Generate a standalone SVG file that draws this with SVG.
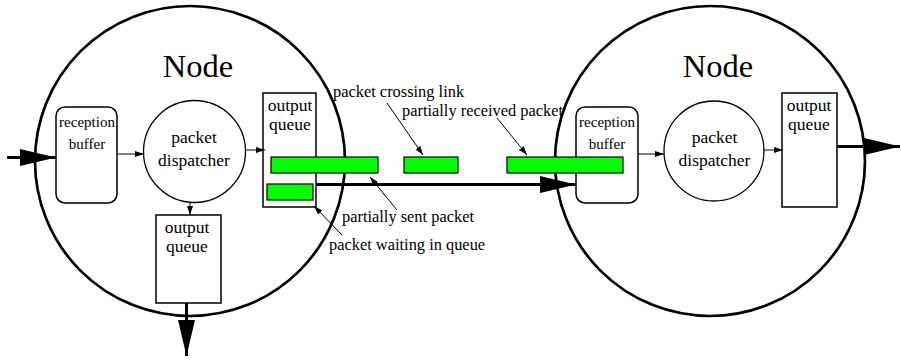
<svg xmlns="http://www.w3.org/2000/svg" width="901" height="363" viewBox="0 0 901 363">
<defs>
<style>
.big{fill:none;stroke:#000;stroke-width:2.7}
.box{fill:#fff;stroke:#000;stroke-width:1.5}
.disp{fill:#fff;stroke:#000;stroke-width:1.3}
.pkt{fill:#00ff00;stroke:#000;stroke-width:1.2}
.thin{fill:none;stroke:#000;stroke-width:1}
.thick{fill:none;stroke:#000;stroke-width:3}
text{fill:#000}
.title{font-size:32.5px;text-anchor:middle}
.rb{font-size:15px;text-anchor:middle}
.lbl{font-size:17.5px;text-anchor:middle}
.note{font-size:16.4px}
</style>
<marker id="bigArrow" viewBox="0 0 36 17" refX="36" refY="8.5" markerWidth="36" markerHeight="17" markerUnits="userSpaceOnUse" orient="auto">
<path d="M0,0 L36,8.5 L0,17 Z" fill="#000"/>
</marker>
<marker id="smallArrow" viewBox="0 0 9 6" refX="9" refY="3" markerWidth="9" markerHeight="6" markerUnits="userSpaceOnUse" orient="auto">
<path d="M0,0 L9,3 L0,6 Z" fill="#000"/>
</marker>
</defs>
<rect width="901" height="363" fill="#fff"/>
<g font-family="'Liberation Serif', 'DejaVu Serif', 'Times New Roman', serif">

<g id="node-left">
<circle class="big" cx="190" cy="161" r="155"/>
<text class="title" x="198" y="77">Node</text>
</g>
<g id="node-right">
<circle class="big" cx="710" cy="161" r="155"/>
<text class="title" x="718" y="77">Node</text>
</g>

<g id="left-reception-buffer">
<rect class="box" x="56" y="107" width="61" height="96" rx="9"/>
<text class="rb" x="87" y="127">reception</text>
<text class="rb" x="87" y="149">buffer</text>
</g>
<g id="left-dispatcher">
<circle class="disp" cx="194.5" cy="151.5" r="51"/>
<text class="lbl" x="194" y="143">packet</text>
<text class="lbl" x="194" y="166">dispatcher</text>
</g>
<g id="left-output-queue-right">
<rect class="box" x="263" y="93" width="53" height="114"/>
<text class="lbl" x="290" y="111">output</text>
<text class="lbl" x="290" y="130">queue</text>
</g>
<g id="left-output-queue-bottom">
<rect class="box" x="156" y="215" width="65" height="88"/>
<text class="lbl" x="187" y="233">output</text>
<text class="lbl" x="187" y="252">queue</text>
</g>

<g id="right-reception-buffer">
<rect class="box" x="576" y="107" width="62" height="96" rx="9"/>
<text class="rb" x="607" y="127">reception</text>
<text class="rb" x="607" y="149">buffer</text>
</g>
<g id="right-dispatcher">
<circle class="disp" cx="714" cy="151" r="50"/>
<text class="lbl" x="714.5" y="143">packet</text>
<text class="lbl" x="714.5" y="166">dispatcher</text>
</g>
<g id="right-output-queue">
<rect class="box" x="782" y="93" width="55" height="114"/>
<text class="lbl" x="809" y="111">output</text>
<text class="lbl" x="809" y="130">queue</text>
</g>

<g id="connectors">
<line class="thick" x1="7" y1="157.5" x2="56" y2="157.5" marker-end="url(#bigArrow)"/>
<line class="thin" x1="117" y1="154" x2="144" y2="154" marker-end="url(#smallArrow)"/>
<line class="thin" x1="245.5" y1="150" x2="265" y2="150" marker-end="url(#smallArrow)"/>
<line class="thin" x1="190" y1="203" x2="190" y2="215" marker-end="url(#smallArrow)"/>
<line class="thick" x1="186.5" y1="303" x2="186.5" y2="356" marker-end="url(#bigArrow)"/>
<line class="thick" x1="316" y1="184.5" x2="576" y2="184.5" marker-end="url(#bigArrow)"/>
<line class="thin" x1="638" y1="154" x2="664" y2="154" marker-end="url(#smallArrow)"/>
<line class="thin" x1="764" y1="150" x2="783" y2="150" marker-end="url(#smallArrow)"/>
<line class="thick" x1="837" y1="146.5" x2="900" y2="146.5" marker-end="url(#bigArrow)"/>
</g>

<g id="packets">
<rect class="pkt" x="271" y="157" width="107" height="16"/>
<rect class="pkt" x="267" y="184" width="46" height="16"/>
<rect class="pkt" x="404" y="157" width="54" height="16"/>
<rect class="pkt" x="507" y="157" width="116" height="16"/>
</g>

<g id="annotations">
<text class="note" x="333" y="97">packet crossing link</text>
<text class="note" x="402" y="116">partially received packet</text>
<text class="note" x="342" y="222">partially sent packet</text>
<text class="note" x="329" y="250">packet waiting in queue</text>
<line class="thin" x1="387" y1="103" x2="423" y2="155" marker-end="url(#smallArrow)"/>
<line class="thin" x1="497" y1="118" x2="527" y2="155" marker-end="url(#smallArrow)"/>
<line class="thin" x1="397" y1="210" x2="370" y2="177" marker-end="url(#smallArrow)"/>
<line class="thin" x1="342" y1="235" x2="314" y2="206" marker-end="url(#smallArrow)"/>
</g>
</g>
</svg>
